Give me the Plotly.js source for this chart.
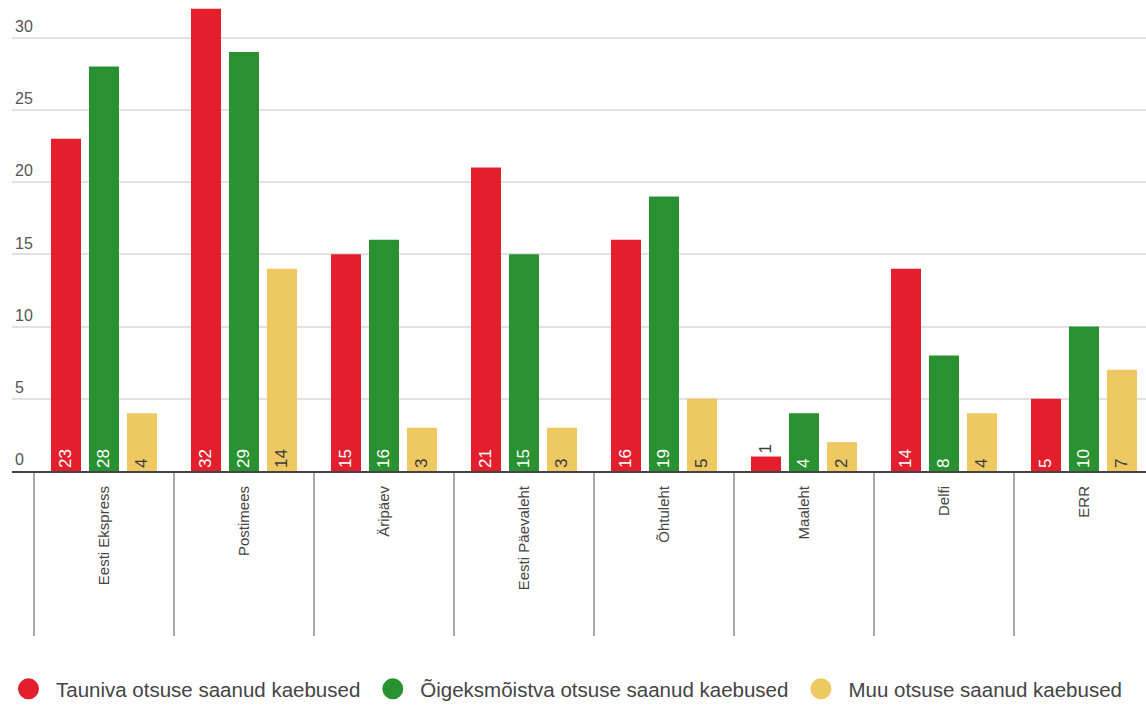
<!DOCTYPE html>
<html>
<head>
<meta charset="utf-8">
<script src="https://cdn.plot.ly/plotly-3.0.1.min.js"></script>
<style>html,body{margin:0;padding:0;background:#fff;}#chart{width:1146px;height:709px;}</style>
</head>
<body>
<div id="chart"></div>
<script>
const categories = ["Eesti Ekspress", "Postimees", "Äripäev", "Eesti Päevaleht", "Õhtuleht", "Maaleht", "Delfi", "ERR"];
const tauniva = [23, 32, 15, 21, 16, 1, 14, 5];
const oigeks = [28, 29, 16, 15, 19, 4, 8, 10];
const muu = [4, 14, 3, 3, 5, 2, 4, 7];
const seriesNames = ["Tauniva otsuse saanud kaebused", "Õigeksmõistva otsuse saanud kaebused", "Muu otsuse saanud kaebused"];
const yTicks = [0, 5, 10, 15, 20, 25, 30];

const colors = ["#e31f2e", "#2a9132", "#eec862"];
const insideText = ["#ffffff", "#ffffff", "#3a3a3a"];
const labelFont = "Liberation Sans, Arial, sans-serif";

function barTrace(vals, i) {
  const pos = vals.map(v => v < 2 ? "outside" : "inside");
  return {
    type: "bar",
    x: categories,
    y: vals,
    name: seriesNames[i],
    showlegend: false,
    marker: {color: colors[i]},
    text: vals.map(String),
    textposition: pos,
    insidetextanchor: "start",
    textangle: -90,
    textfont: {family: labelFont, size: 17, color: pos.map(p => p === "inside" ? insideText[i] : "#3a3a3a")},
    cliponaxis: false,
    hoverinfo: "x+y"
  };
}
function legendTrace(i) {
  return {
    type: "scatter", mode: "markers", x: [null], y: [null],
    name: seriesNames[i], showlegend: true,
    marker: {color: colors[i], size: 16, symbol: "circle", line: {color: colors[i], width: 5}}
  };
}

const data = [barTrace(tauniva, 0), barTrace(oigeks, 1), barTrace(muu, 2),
  legendTrace(0), legendTrace(1), legendTrace(2)];

// first category boundary (left edge of the first group)
const firstBoundary = 0 - 0.5;

const layout = {
  width: 1146, height: 709,
  margin: {l: 12, r: 0, t: 0, b: 235, pad: 0},
  paper_bgcolor: "#ffffff", plot_bgcolor: "#ffffff",
  barmode: "group", bargap: 0.186, bargroupgap: 0.21,
  font: {family: "Liberation Sans, Arial, sans-serif", color: "#444"},
  xaxis: {
    type: "category",
    range: [-0.657, 7.443],
    showgrid: false, zeroline: false,
    showline: true, linecolor: "#444", linewidth: 2,
    ticks: "outside", tickson: "boundaries", ticklen: 163, tickwidth: 2, tickcolor: "#aaa",
    tickangle: -90,
    ticklabelstandoff: 7,
    tickfont: {family: labelFont, size: 15, color: "#444"},
    fixedrange: true
  },
  yaxis: {
    range: [0, 32.6],
    tickvals: yTicks, ticktext: yTicks.map(String),
    ticklabelposition: "inside top",
    tickfont: {family: labelFont, size: 16, color: "#555"},
    showgrid: true, gridcolor: "#e2e2e2", gridwidth: 2,
    zeroline: false, showline: false, ticks: "",
    fixedrange: true
  },
  shapes: [{
    type: "line", xref: "x", yref: "paper",
    x0: firstBoundary, x1: firstBoundary, y0: 0, y1: -163 / 474,
    line: {color: "#aaa", width: 2}, layer: "below"
  }],
  legend: {
    orientation: "h", x: -0.0097, xanchor: "left", y: -0.463, yanchor: "middle",
    font: {family: "Liberation Sans, Arial, sans-serif", size: 20.5, color: "#444"},
    itemsizing: "trace", itemwidth: 45, traceorder: "normal"
  },
  showlegend: true
};

Plotly.newPlot("chart", data, layout, {displayModeBar: false, staticPlot: true});
</script>
</body>
</html>
